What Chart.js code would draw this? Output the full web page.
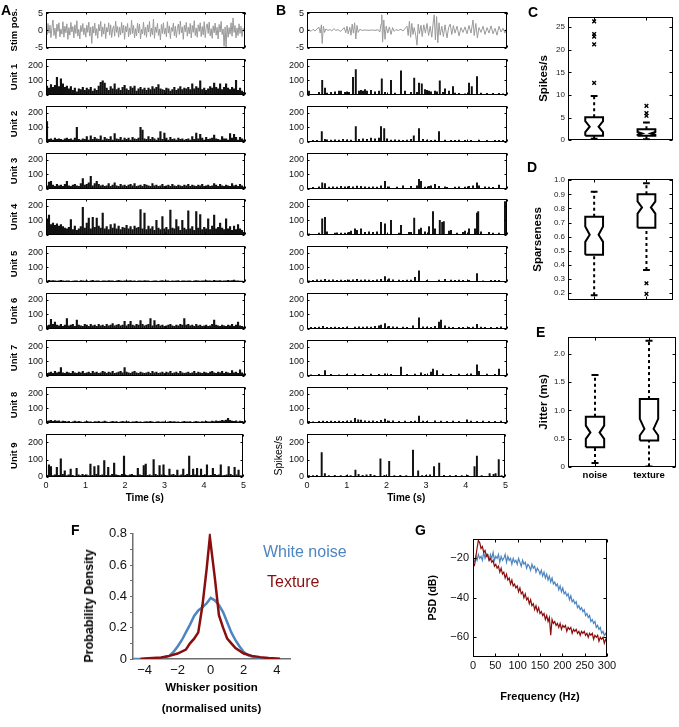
<!DOCTYPE html>
<html><head><meta charset="utf-8">
<script src="https://cdn.jsdelivr.net/npm/chart.js@4.4.1/dist/chart.umd.min.js"></script>
<style>
html,body{margin:0;padding:0;background:#fff;}
#fig{position:relative;width:679px;height:727px;overflow:hidden;font-family:"Liberation Sans",Arial,sans-serif;}
canvas{position:absolute;}
.let{position:absolute;font-weight:bold;font-size:14px;line-height:14px;color:#000;}
.leg{position:absolute;font-size:16px;line-height:16px;white-space:nowrap;}
.rot{position:absolute;white-space:nowrap;font-weight:bold;transform:translate(-50%,-50%) rotate(-90deg);}
</style></head><body><div id="fig"></div>
<script>
// ---------------- DATA ----------------
const timeTicks = [0, 1, 2, 3, 4, 5];
const stimTicks = [-5, 0, 5];
const rateTicks = [0, 100, 200];
const unitNames = ['Unit 1','Unit 2','Unit 3','Unit 4','Unit 5','Unit 6','Unit 7','Unit 8','Unit 9'];

// A: white-noise stimulus (sampled every 0.025 s)
const stimNoise = [
0.5,-1.2,2.0,-0.8,1.5,-2.1,0.9,3.0,-1.5,0.6,-2.4,1.8,-0.3,2.2,-1.9,0.4,-1.1,2.5,-2.0,1.2,
-0.7,1.9,-2.6,0.8,-1.4,2.3,-0.5,1.1,-2.2,1.6,-0.9,2.8,-1.7,0.3,-2.5,1.4,-0.4,2.0,-1.3,0.7,
-2.0,1.5,-0.6,2.4,-1.6,0.9,-3.8,1.2,-0.8,2.1,-1.5,0.5,-2.3,1.7,-0.2,2.6,-1.8,1.0,-1.1,1.9,
-2.4,0.8,-0.5,2.2,-1.4,1.6,-2.1,0.4,1.3,-1.7,2.7,-0.6,1.1,-2.0,0.9,-1.3,2.3,-0.8,1.5,-2.6,
1.2,-0.4,2.0,-1.9,0.7,-1.2,2.9,-0.9,1.4,-2.2,0.5,-1.6,2.1,-0.7,1.8,-2.5,0.3,-1.0,2.4,-1.4,
0.9,-2.0,1.6,-0.5,2.6,-1.8,0.6,-1.3,3.3,-2.3,1.0,-0.6,2.0,-1.5,0.4,-2.8,1.7,-0.9,2.2,-1.1,
0.6,-1.9,2.5,-0.8,1.3,-2.4,0.8,-0.3,2.1,-1.6,1.2,-2.1,0.5,1.8,-1.2,2.7,-0.7,1.0,-2.6,1.5,
-0.4,2.3,-1.7,0.9,-1.0,2.0,-2.2,1.4,-0.6,2.8,-1.5,0.7,-2.0,1.6,-0.3,2.2,-1.8,1.1,-1.3,2.5,
-2.1,0.8,1.9,-0.9,2.4,-1.6,0.5,-2.3,1.3,-0.7,2.1,-1.4,0.9,-2.5,1.7,-0.5,2.6,-1.2,0.4,-4.6,
1.0,-5.0,1.5,-2.0,0.8,-1.1,2.2,-1.7,3.6,-0.6,1.4,-2.2,0.7,-1.5,1.9,-0.9,1.2,-1.8,0.6,-0.4];

// B: texture stimulus [time (s), position]
const stimTexture = [
[0,0],[0.05,0.2],[0.1,-0.3],[0.15,0.3],[0.2,-0.2],[0.25,0.4],[0.3,0.9],[0.33,-0.8],[0.36,1.6],[0.38,-3.8],
[0.41,1.2],[0.44,-0.6],[0.47,0.4],[0.52,0],[0.58,0.2],[0.62,-0.2],[0.67,0.5],[0.72,0],[0.78,0.2],[0.83,-0.3],
[0.88,0.1],[0.93,0.8],[0.97,-0.7],[1.0,1.2],[1.03,-1.0],[1.07,0.9],[1.1,-1.4],[1.13,1.8],[1.16,-0.8],[1.19,2.2],
[1.22,-2.5],[1.25,1.4],[1.28,-0.6],[1.32,0.3],[1.37,0],[1.45,0.1],[1.55,0],[1.62,0.1],[1.7,0],[1.78,0.2],
[1.82,-0.5],[1.85,1.8],[1.87,4.5],[1.89,-3.4],[1.92,3.0],[1.95,-2.6],[1.98,1.2],[2.02,-0.8],[2.06,1.0],[2.1,-1.2],
[2.14,0.8],[2.18,-0.3],[2.22,0.2],[2.28,0],[2.35,0.3],[2.4,-0.2],[2.45,0.5],[2.5,1.2],[2.53,-1.5],[2.56,2.6],
[2.59,-2.0],[2.62,2.0],[2.65,-1.2],[2.68,0.8],[2.72,-1.6],[2.75,-4.3],[2.78,1.8],[2.81,-1.0],[2.85,1.5],[2.88,-1.8],
[2.92,1.6],[2.96,-0.8],[3.0,2.0],[3.04,-1.5],[3.08,1.2],[3.12,-2.0],[3.15,1.8],[3.18,4.5],[3.21,-2.8],[3.24,4.0],
[3.27,-3.6],[3.3,2.2],[3.33,-1.4],[3.37,1.2],[3.41,-1.8],[3.45,1.6],[3.5,-2.2],[3.54,0.8],[3.58,1.8],[3.62,-1.2],
[3.66,1.4],[3.7,-0.8],[3.75,1.2],[3.8,-1.6],[3.85,0.8],[3.9,-0.6],[3.95,1.0],[4.0,-1.0],[4.05,1.4],[4.1,-0.8],
[4.15,3.0],[4.18,-1.5],[4.22,2.0],[4.26,-2.2],[4.3,0.8],[4.35,-0.6],[4.4,1.2],[4.45,-1.2],[4.5,0.8],[4.55,-0.8],
[4.6,1.3],[4.65,-1.0],[4.7,0.6],[4.75,-1.4],[4.8,1.2],[4.85,-0.5],[4.9,0.6],[4.95,-0.8],[4.98,0.3]];

// A: firing rates (spikes/s) in 50 ms bins, white-noise stimulus
const noiseUnit1 = [60,45,70,50,65,120,55,110,75,50, 60,40,55,30,45,20,40,35,50,30, 45,35,50,25,40,30,60,85,95,80, 45,30,55,40,75,35,45,30,50,65,
 40,30,55,45,60,25,40,50,35,45, 30,45,35,55,40,50,70,40,35,30, 45,40,25,35,50,30,40,55,35,45, 40,50,35,75,40,55,45,95,35,45,
 30,40,55,45,80,50,40,75,35,50, 75,45,35,50,40,100,30,45,25,15];
const noiseUnit2 = [140,15,20,10,25,15,20,15,10,20, 25,15,20,10,25,100,15,10,20,15, 35,10,40,15,30,20,15,40,10,30, 20,15,35,10,55,20,15,30,10,25,
 15,25,10,30,20,15,25,100,80,20, 15,35,15,30,20,10,25,70,15,60, 25,10,30,15,20,10,25,15,20,10, 15,20,10,35,15,60,20,50,25,10,
 30,15,20,25,45,20,15,10,35,20, 20,10,55,25,50,30,10,30,20,10];
const noiseUnit3 = [20,45,50,25,15,30,20,25,15,30, 50,20,15,25,30,20,15,35,70,25, 30,40,85,20,35,50,30,20,25,15, 20,35,15,25,40,20,15,30,20,25,
 15,25,30,20,35,15,20,25,15,30, 25,20,15,35,20,25,15,20,30,15, 20,25,15,30,20,15,25,20,15,25, 20,30,15,25,20,15,25,20,30,15,
 20,25,15,20,35,25,15,30,20,15, 25,20,15,35,20,25,15,30,20,10];
const noiseUnit4 = [110,135,70,80,65,75,60,70,55,45, 40,50,105,35,60,30,40,55,190,45, 80,115,40,120,50,115,60,45,150,40, 55,35,70,45,75,40,60,35,50,45,
 65,40,55,35,60,45,50,175,40,150, 35,60,40,55,30,100,45,35,125,40, 50,35,170,45,40,105,55,30,100,45, 35,165,40,55,30,160,45,140,35,50,
 40,110,35,60,135,40,50,80,45,35, 110,40,55,30,60,35,70,40,30,15];
const noiseUnit5 = [5,8,6,7,5,4,6,8,5,3, 6,5,0,4,6,5,0,7,5,4, 6,0,5,8,4,6,5,0,6,5, 4,7,5,6,0,5,8,6,4,5, 6,5,7,4,6,0,5,6,4,7,
 5,6,0,4,5,6,0,5,7,4, 6,5,0,6,4,5,7,0,5,6, 4,6,5,0,6,7,5,4,6,5, 7,5,6,4,8,6,5,7,4,5, 6,8,5,7,10,6,5,4,3,2];
const noiseUnit6 = [20,25,65,30,45,25,20,30,15,25, 70,20,25,30,15,60,25,20,15,30, 25,15,30,20,25,15,30,20,25,15, 30,20,25,35,20,25,30,20,25,50,
 20,30,50,25,20,30,25,55,30,20, 25,30,70,20,55,25,30,20,25,15, 20,25,30,20,15,25,20,30,25,70, 25,30,20,25,15,30,20,25,15,20,
 25,15,20,30,60,25,20,15,25,20, 15,25,20,30,15,25,45,20,15,10];
const noiseUnit7 = [15,20,25,15,30,20,25,55,20,15, 25,20,15,30,20,15,25,20,30,15, 20,25,15,30,20,25,15,20,30,25, 15,25,20,30,15,20,25,30,20,55,
 25,20,15,25,30,20,15,25,20,15, 20,25,15,30,20,25,15,20,25,15, 25,20,30,15,20,25,15,30,20,15, 20,25,15,20,30,15,25,20,15,25,
 20,15,25,30,20,15,25,20,30,15, 25,20,15,35,20,25,15,40,20,10];
const noiseUnit8 = [10,12,15,8,14,10,12,6,10,8, 5,8,0,6,10,5,8,6,0,5, 8,6,5,0,7,5,8,4,6,10, 5,0,6,8,5,7,0,5,8,6, 5,7,0,6,5,8,4,6,0,5,
 7,5,8,6,0,5,7,4,6,5, 0,6,8,5,7,4,6,0,5,8, 6,5,7,0,6,8,5,4,7,6, 8,5,6,10,7,12,8,10,15,12, 18,30,15,10,8,12,6,10,8,5];
const noiseUnit9 = [10,70,60,8,12,55,10,105,15,35, 8,12,45,10,5,50,12,8,15,10, 12,8,75,10,60,15,65,10,12,95, 10,55,8,15,80,12,10,8,15,120,
 10,8,12,15,10,8,50,12,10,65, 75,10,12,8,100,15,10,65,12,70, 10,8,45,12,15,10,40,8,12,45, 10,15,120,10,45,12,50,8,45,10,
 12,70,8,10,50,15,10,12,70,8, 10,12,60,15,10,55,12,40,8,5];

// B: firing rates (spikes/s) [time (s), rate], texture stimulus
const texUnit1 = [[0.05,25],[0.3,15],[0.38,100],[0.45,45],[0.5,10],[0.6,15],[0.7,20],[0.8,25],[0.85,25],[0.95,15],[1.0,20],[1.05,15],[1.15,120],[1.22,175],[1.3,25],[1.35,30],[1.4,25],[1.45,35],[1.5,25],[1.6,30],[1.7,20],[1.8,25],[1.87,110],[1.95,15],[2.1,100],[2.2,10],[2.35,165],[2.45,25],[2.6,15],[2.68,115],[2.75,15],[2.8,80],[2.87,75],[2.95,35],[3.0,30],[3.05,25],[3.1,20],[3.2,25],[3.25,20],[3.32,95],[3.4,15],[3.45,40],[3.55,25],[3.65,55],[3.7,10],[3.8,8],[3.95,5],[4.05,80],[4.12,55],[4.25,125],[4.35,10],[4.5,8],[4.65,8],[4.8,8],[4.9,6]];
const texUnit2 = [[0.15,8],[0.25,8],[0.37,70],[0.45,15],[0.5,12],[0.6,10],[0.7,12],[0.8,10],[0.9,15],[1.0,12],[1.1,10],[1.22,105],[1.3,15],[1.4,20],[1.5,15],[1.6,25],[1.7,20],[1.8,25],[1.85,105],[1.93,90],[2.0,20],[2.1,10],[2.2,12],[2.3,10],[2.4,8],[2.5,10],[2.6,15],[2.67,40],[2.8,90],[2.9,15],[3.0,10],[3.1,8],[3.2,10],[3.3,70],[3.45,10],[3.6,8],[3.7,8],[3.8,10],[3.95,8],[4.1,8],[4.3,10],[4.5,8],[4.7,8],[4.8,8],[4.9,8]];
const texUnit3 = [[0.15,8],[0.3,12],[0.38,40],[0.45,35],[0.55,10],[0.65,12],[0.75,10],[0.85,15],[0.95,12],[1.05,15],[1.15,12],[1.25,18],[1.35,15],[1.45,12],[1.55,10],[1.65,12],[1.75,10],[1.85,20],[1.95,50],[2.05,12],[2.25,10],[2.4,20],[2.6,15],[2.75,20],[2.8,65],[2.85,50],[2.95,10],[3.05,15],[3.1,20],[3.2,30],[3.3,15],[3.45,12],[3.5,8],[3.7,10],[3.8,12],[3.95,10],[4.05,15],[4.15,20],[4.25,40],[4.3,20],[4.45,12],[4.55,10],[4.65,8],[4.8,25]];
const texUnit4 = [[0.05,5],[0.3,10],[0.38,110],[0.45,120],[0.5,20],[0.7,10],[0.75,12],[0.85,10],[0.95,10],[1.05,15],[1.1,25],[1.2,40],[1.25,30],[1.35,40],[1.45,15],[1.55,20],[1.65,15],[1.75,20],[1.85,85],[1.95,75],[2.1,100],[2.3,10],[2.35,65],[2.55,15],[2.6,15],[2.68,115],[2.8,35],[2.85,45],[2.95,20],[3.05,55],[3.15,160],[3.2,40],[3.32,100],[3.38,85],[3.42,90],[3.55,25],[3.6,30],[3.75,10],[3.9,15],[3.95,25],[4.05,40],[4.2,40],[4.25,150],[4.28,160],[4.35,20],[4.55,15],[4.65,10],[4.8,10],[4.95,230]];
const texUnit5 = [[0.0,8],[0.05,5],[0.15,8],[0.25,12],[0.35,10],[0.45,15],[0.55,10],[0.65,12],[0.75,8],[0.85,10],[0.95,8],[1.05,10],[1.15,12],[1.25,15],[1.35,10],[1.45,12],[1.55,10],[1.65,8],[1.75,12],[1.85,15],[1.95,35],[2.05,20],[2.15,12],[2.3,10],[2.4,8],[2.5,10],[2.6,10],[2.7,30],[2.8,75],[3.0,8],[3.3,10],[3.45,15],[3.6,10],[3.7,8],[3.8,10],[3.9,8],[4.05,8],[4.25,55],[4.4,5],[4.6,8],[4.7,8],[4.8,8]];
const texUnit6 = [[0.1,8],[0.2,8],[0.3,10],[0.4,15],[0.5,8],[0.6,8],[0.7,10],[0.8,8],[0.9,8],[1.0,10],[1.2,10],[1.3,12],[1.4,10],[1.5,12],[1.6,10],[1.7,15],[1.8,20],[1.85,25],[1.95,35],[2.05,15],[2.15,12],[2.25,10],[2.4,10],[2.5,8],[2.65,20],[2.8,75],[2.9,12],[3.0,10],[3.1,8],[3.2,15],[3.3,45],[3.35,60],[3.45,20],[3.55,10],[3.65,8],[3.8,8],[3.9,8],[4.05,8],[4.15,10],[4.25,30],[4.35,10],[4.45,8],[4.6,8],[4.75,8],[4.85,12]];
const texUnit7 = [[0.1,5],[0.3,8],[0.45,35],[0.6,8],[0.8,5],[1.0,8],[1.2,10],[1.4,8],[1.6,10],[1.8,8],[1.95,12],[2.1,8],[2.35,60],[2.5,8],[2.7,10],[2.85,20],[2.95,8],[3.1,25],[3.15,45],[3.25,35],[3.4,10],[3.6,8],[3.8,10],[4.0,8],[4.1,12],[4.25,75],[4.3,30],[4.5,10],[4.7,8],[4.8,45]];
const texUnit8 = [[0.05,8],[0.15,5],[0.3,8],[0.4,10],[0.5,8],[0.6,10],[0.7,8],[0.8,10],[0.9,8],[1.0,10],[1.1,12],[1.2,30],[1.28,20],[1.35,18],[1.45,12],[1.55,10],[1.65,12],[1.75,8],[1.85,15],[1.95,25],[2.05,10],[2.15,12],[2.3,8],[2.45,10],[2.6,8],[2.7,10],[2.8,45],[2.9,10],[3.0,8],[3.2,12],[3.35,10],[3.5,8],[3.65,10],[3.8,8],[4.0,20],[4.1,10],[4.25,8],[4.4,10],[4.55,8],[4.7,8],[4.85,10]];
const texUnit9 = [[0.05,8],[0.15,8],[0.25,10],[0.37,140],[0.45,20],[0.55,8],[0.7,10],[0.85,8],[1.0,10],[1.1,8],[1.22,40],[1.3,15],[1.4,10],[1.5,12],[1.6,15],[1.7,10],[1.85,105],[1.95,10],[2.07,90],[2.2,8],[2.35,10],[2.5,8],[2.67,155],[2.8,35],[2.9,8],[3.0,10],[3.1,12],[3.2,60],[3.33,80],[3.45,10],[3.6,8],[3.75,10],[3.9,8],[4.05,10],[4.22,60],[4.28,120],[4.4,8],[4.6,20],[4.7,15],[4.75,20],[4.83,100],[4.9,8]];

// C-E: box statistics [lower whisker, Q1, notch low, median, notch high, Q3, upper whisker]
const boxCats = ['noise', 'texture'];
const rateNoise = [0.3, 1.0, 1.8, 3.0, 4.2, 5.05, 9.8];
const rateTexture = [0.2, 1.0, 1.2, 1.5, 1.8, 2.4, 3.9];
const rateOutNoise = [26.3, 23.5, 22.9, 21.2, 12.7];
const rateOutTexture = [7.6, 6.0, 5.4];
const rateTicks2 = [0, 5, 10, 15, 20, 25];
const sparseNoise = [0.185, 0.472, 0.563, 0.614, 0.672, 0.741, 0.918];
const sparseTexture = [0.364, 0.663, 0.763, 0.807, 0.85, 0.90, 0.978];
const sparseOutTexture = [0.27, 0.195];
const sparseTicks = [0.2, 0.3, 0.4, 0.5, 0.6, 0.7, 0.8, 0.9, 1];
const jitterNoise = [0.07, 0.351, 0.497, 0.608, 0.73, 0.889, 1.626];
const jitterTexture = [0.01, 0.468, 0.556, 0.672, 0.85, 1.2, 2.23];
const jitterTicks = [0, 0.5, 1, 1.5, 2];

// F: whisker position probability density
const pdfWhiteX = [-4.7,-4.5,-4,-3.5,-3,-2.5,-2.25,-2,-1.75,-1.5,-1.25,-1,-0.75,-0.5,-0.25,0,0.25,0.5,0.75,1,1.25,1.5,1.75,2,2.25,2.5,3,3.5];
const pdfWhiteY = [0,0,0,0.002,0.006,0.02,0.045,0.08,0.12,0.17,0.22,0.275,0.31,0.33,0.355,0.39,0.375,0.345,0.3,0.235,0.17,0.12,0.08,0.045,0.025,0.015,0.006,0.002];
const pdfTexX = [-4.25,-4,-3.5,-3,-2.5,-2,-1.5,-1.25,-1,-0.75,-0.5,-0.25,-0.05,0.25,0.5,0.75,1,1.25,1.5,2,2.5,3,3.5,4,4.2];
const pdfTexY = [0,0.003,0.006,0.01,0.02,0.035,0.06,0.1,0.13,0.17,0.34,0.57,0.78,0.52,0.28,0.2,0.13,0.1,0.07,0.035,0.02,0.012,0.006,0.003,0.002];
const pdfXTicks = [-4, -2, 0, 2, 4];

// G: power spectral density (dB), 3 Hz steps from 3 to 300 Hz
const psdWhite = [-22,-19,-21,-18,-20,-19,-21,-17,-20,-18, -19,-21,-18,-20,-17,-21,-19,-20,-18,-22,
 -19,-21,-20,-18,-22,-19,-21,-20,-23,-20, -22,-21,-23,-20,-22,-24,-21,-23,-22,-25, -23,-24,-26,-23,-25,-24,-27,-25,-26,-28,
 -26,-29,-27,-30,-28,-31,-29,-32,-30,-33, -32,-34,-33,-36,-34,-37,-35,-38,-37,-39, -38,-41,-39,-42,-41,-43,-42,-45,-44,-46,
 -45,-47,-46,-49,-48,-50,-49,-52,-51,-53, -52,-55,-54,-56,-55,-58,-57,-59,-58,-60];
const psdTexture = [-24,-20,-15,-11,-12,-15,-14,-17,-16,-19, -18,-21,-20,-22,-21,-24,-23,-25,-24,-27,
 -25,-28,-27,-30,-28,-31,-30,-33,-31,-34, -33,-35,-34,-37,-35,-38,-37,-40,-38,-41, -40,-43,-41,-44,-43,-46,-44,-47,-45,-48,
 -47,-49,-48,-51,-49,-52,-50,-59,-51,-53, -52,-54,-53,-55,-53,-56,-54,-55,-54,-57, -55,-56,-55,-58,-56,-57,-56,-58,-57,-59,
 -57,-58,-57,-59,-58,-60,-58,-59,-58,-61, -59,-60,-59,-62,-60,-61,-60,-63,-61,-62];
const psdXTicks = [0, 50, 100, 150, 200, 250, 300];
const psdYTicks = [-60, -40, -20];

// ---------------- RENDERING ----------------
const FONT = '"Liberation Sans", Arial, sans-serif';
Chart.defaults.font.family = FONT;
Chart.defaults.color = '#111';
Chart.defaults.animation = false;

const framePlugin = {
  id: 'frame',
  afterDatasetsDraw(chart, args, o) {
    if (!o || !o.on) return;
    const {ctx, chartArea: a, scales} = chart;
    const L = o.tick || 3;
    ctx.save();
    ctx.strokeStyle = o.color || '#000';
    ctx.lineWidth = 1;
    ctx.beginPath();
    const l = Math.round(a.left) + 0.5, r = Math.round(a.right) - 0.5;
    const t = Math.round(a.top) + 0.5, b = Math.round(a.bottom) - 0.5;
    (scales.x.ticks || []).forEach(tk => {
      const p = Math.round(scales.x.getPixelForValue(tk.value)) + 0.5;
      ctx.moveTo(p, b); ctx.lineTo(p, b - L);
      ctx.moveTo(p, t); ctx.lineTo(p, t + L);
    });
    (scales.y.ticks || []).forEach(tk => {
      const p = Math.round(scales.y.getPixelForValue(tk.value)) + 0.5;
      ctx.moveTo(l, p); ctx.lineTo(l + L, p);
      ctx.moveTo(r, p); ctx.lineTo(r - L, p);
    });
    ctx.stroke();
    ctx.strokeRect(l, t, r - l, b - t);
    ctx.restore();
  }
};
Chart.register(framePlugin);

const fig = document.getElementById('fig');
function mk(left, top, w, h) {
  const c = document.createElement('canvas');
  c.width = w; c.height = h;
  c.style.left = left + 'px'; c.style.top = top + 'px';
  c.style.width = w + 'px'; c.style.height = h + 'px';
  fig.appendChild(c);
  return c;
}
function fixTicks(vals) { return s => { s.ticks = vals.map(v => ({value: v})); }; }
const minus = v => String(v).replace('-', '\u2212');

// one row of panel A / B
function rowChart(o) {
  const padT = 7, padR = 4, plotH = 44;
  const xH = o.showX ? 27 : 0;
  const W = o.axisW + (o.plotR - o.plotL) + padR;
  const H = padT + plotH + xH + 1;
  const cv = mk(o.plotL - o.axisW, o.top - padT, W, H);
  const ds = o.kind === 'bar'
    ? {data: o.points, backgroundColor: '#111', borderWidth: 0, barThickness: o.bw}
    : {data: o.points, showLine: true, borderColor: '#9a9a9a', borderWidth: 1, pointRadius: 0, tension: 0};
  new Chart(cv, {
    type: o.kind === 'bar' ? 'bar' : 'scatter',
    data: {datasets: [ds]},
    options: {
      responsive: false, animation: false, events: [],
      layout: {padding: {top: padT, right: padR, bottom: 1, left: 0}},
      plugins: {legend: {display: false}, tooltip: {enabled: false}, frame: {on: true, tick: 2}},
      scales: {
        x: {type: 'linear', min: 0, max: 5, offset: false,
            grid: {display: false, drawTicks: false, offset: false}, border: {display: false},
            afterBuildTicks: fixTicks(timeTicks), afterFit: s => { s.height = xH; },
            ticks: {display: !!o.showX, font: {size: 9}, padding: 3, maxRotation: 0, autoSkip: false, color: '#111'},
            title: {display: !!o.showX, text: 'Time (s)', font: {size: 10, weight: 'bold'}, padding: {top: 0, bottom: 0}, color: '#000'}},
        y: {type: 'linear', min: o.yMin, max: o.yMax,
            grid: {display: false, drawTicks: false}, border: {display: false},
            afterBuildTicks: fixTicks(o.yTicks), afterFit: s => { s.width = o.axisW; },
            ticks: {font: {size: 9}, padding: 3, autoSkip: false, color: '#111'},
            title: {display: !!o.yTitle, text: o.yTitle, font: {size: o.titleSize || 9.5, weight: o.titleWeight || 'bold'},
                    padding: {top: o.titlePad, bottom: 0}, color: '#000'}}
      }
    }
  });
}

const rowTops = [11, 58, 105, 152, 198, 245, 292, 339, 386, 433];
const noiseUnits = [noiseUnit1, noiseUnit2, noiseUnit3, noiseUnit4, noiseUnit5, noiseUnit6, noiseUnit7, noiseUnit8, noiseUnit9];
const texUnits = [texUnit1, texUnit2, texUnit3, texUnit4, texUnit5, texUnit6, texUnit7, texUnit8, texUnit9];

// Panel A
rowChart({kind: 'line', plotL: 46, plotR: 245, top: rowTops[0], axisW: 46,
  points: stimNoise.map((v, i) => ({x: i * 0.025, y: v})),
  yMin: -5, yMax: 5.2, yTicks: stimTicks, yTitle: 'Stim pos.', titlePad: 9});
noiseUnits.forEach((u, k) => {
  rowChart({kind: 'bar', plotL: 46, plotR: 245, top: rowTops[k + 1], axisW: 46, bw: 1.5,
    points: u.map((v, i) => ({x: 0.025 + i * 0.05, y: v})),
    yMin: 0, yMax: 245, yTicks: rateTicks, yTitle: unitNames[k], titlePad: 9, showX: k === 8});
});
// Panel B
rowChart({kind: 'line', plotL: 307, plotR: 507, top: rowTops[0], axisW: 36,
  points: stimTexture.map(p => ({x: p[0], y: p[1]})),
  yMin: -5, yMax: 5.2, yTicks: stimTicks});
texUnits.forEach((u, k) => {
  rowChart({kind: 'bar', plotL: 307, plotR: 507, top: rowTops[k + 1], axisW: 36, bw: 1.3,
    points: u.map(p => ({x: p[0], y: p[1]})),
    yMin: 0, yMax: 245, yTicks: rateTicks, showX: k === 8,
    yTitle: k === 8 ? 'Spikes/s' : null, titleWeight: 'normal', titleSize: 10.5, titlePad: 2});
});

// Panels C-E: notched box plots
const BOXW = 0.17, NOTCHW = 0.085, CAPW = 0.065;
function boxParts(s, pos) {
  const [lo, q1, nLo, med, nHi, q3, hi] = s;
  const line = (pts, dash) => ({data: pts.map(p => ({x: p[0], y: p[1]})), showLine: true, borderColor: '#000',
    borderWidth: 2, borderDash: dash || [], pointRadius: 0, tension: 0});
  return [
    line([[pos-BOXW,q1],[pos+BOXW,q1],[pos+BOXW,nLo],[pos+NOTCHW,med],[pos+BOXW,nHi],[pos+BOXW,q3],
          [pos-BOXW,q3],[pos-BOXW,nHi],[pos-NOTCHW,med],[pos-BOXW,nLo],[pos-BOXW,q1]]),
    line([[pos,q3],[pos,hi]], [3,3]),
    line([[pos,lo],[pos,q1]], [3,3]),
    line([[pos-CAPW,hi],[pos+CAPW,hi]]),
    line([[pos-CAPW,lo],[pos+CAPW,lo]])
  ];
}
function outliers(vals, pos) {
  return {data: vals.map(v => ({x: pos, y: v})), showLine: false, pointStyle: 'crossRot', pointRadius: 2.6,
    borderColor: '#000', borderWidth: 1.4, backgroundColor: '#000'};
}
function boxChart(o) {
  const plotL = 568, plotR = 676, axisW = 37, padT = 7, padR = 2;
  const xH = o.showCats ? 18 : 0;
  const cv = mk(plotL - axisW, o.plotT - padT, axisW + plotR - plotL + padR, padT + (o.plotB - o.plotT) + xH + 1);
  const ds = [...boxParts(o.n, 1), ...boxParts(o.t, 2)];
  if (o.outN) ds.push(outliers(o.outN, 1));
  if (o.outT) ds.push(outliers(o.outT, 2));
  new Chart(cv, {
    type: 'scatter',
    data: {datasets: ds},
    options: {
      responsive: false, animation: false, events: [],
      layout: {padding: {top: padT, right: padR, bottom: 1, left: 0}},
      plugins: {legend: {display: false}, tooltip: {enabled: false}, frame: {on: true, tick: 3}},
      scales: {
        x: {type: 'linear', min: 0.5, max: 2.5, grid: {display: false, drawTicks: false}, border: {display: false},
            afterBuildTicks: fixTicks([1, 2]), afterFit: s => { s.height = xH; },
            ticks: {display: !!o.showCats, callback: v => boxCats[v - 1], font: {size: 9.5, weight: 'bold'}, padding: 3, autoSkip: false, maxRotation: 0, color: '#000'}},
        y: {type: 'linear', min: o.yMin, max: o.yMax, grid: {display: false, drawTicks: false}, border: {display: false},
            afterBuildTicks: fixTicks(o.yTicks), afterFit: s => { s.width = axisW; },
            ticks: {font: {size: 8}, padding: 3, autoSkip: false, color: '#222'},
            title: {display: true, text: o.title, font: {size: 11.5, weight: 'bold'}, padding: {top: o.titlePad, bottom: 0}, color: '#000'}}
      }
    }
  });
}
boxChart({plotT: 16, plotB: 147, yMin: 0, yMax: 27.3, yTicks: rateTicks2, title: 'Spikes/s', titlePad: 6,
  n: rateNoise, t: rateTexture, outN: rateOutNoise, outT: rateOutTexture});
boxChart({plotT: 178, plotB: 307, yMin: 0.15, yMax: 1.01, yTicks: sparseTicks, title: 'Sparseness', titlePad: 0,
  n: sparseNoise, t: sparseTexture, outT: sparseOutTexture});
boxChart({plotT: 336, plotB: 467, yMin: 0, yMax: 2.3, yTicks: jitterTicks, title: 'Jitter (ms)', titlePad: 6,
  n: jitterNoise, t: jitterTexture, showCats: true});

// Panel F
(function () {
  const plotL = 133, plotR = 290, plotT = 531, plotB = 659, axisW = 38, padT = 8, padR = 6, xH = 60;
  const cv = mk(plotL - axisW, plotT - padT, axisW + plotR - plotL + padR, padT + plotB - plotT + xH + 1);
  new Chart(cv, {
    type: 'scatter',
    data: {datasets: [
      {data: pdfTexX.map((x, i) => ({x, y: pdfTexY[i]})), showLine: true, borderColor: '#8b0e0e', borderWidth: 2.5, pointRadius: 0, tension: 0},
      {data: pdfWhiteX.map((x, i) => ({x, y: pdfWhiteY[i]})), showLine: true, borderColor: '#4d85c1', borderWidth: 2.5, pointRadius: 0, tension: 0}
    ]},
    options: {
      responsive: false, animation: false, events: [],
      layout: {padding: {top: padT, right: padR, bottom: 1, left: 0}},
      plugins: {legend: {display: false}, tooltip: {enabled: false}},
      scales: {
        x: {type: 'linear', min: -4.7, max: 4.8, grid: {display: false, drawTicks: false}, border: {display: true, color: '#6e6e6e', width: 1.5},
            afterBuildTicks: fixTicks(pdfXTicks), afterFit: s => { s.height = xH; },
            ticks: {font: {size: 13}, padding: 4, autoSkip: false, maxRotation: 0, color: '#111', callback: v => minus(v)},
            title: {display: true, text: ['Whisker position', '(normalised units)'], font: {size: 11.5, weight: 'bold', lineHeight: 1.8}, padding: {top: 0, bottom: 0}, color: '#000'}},
        y: {type: 'linear', min: 0, max: 0.8, grid: {display: true, drawOnChartArea: false, drawTicks: true, tickLength: 3, color: '#6e6e6e'},
            border: {display: true, color: '#6e6e6e', width: 1.5},
            afterBuildTicks: fixTicks([0, 0.1, 0.2, 0.3, 0.4, 0.5, 0.6, 0.7, 0.8]), afterFit: s => { s.width = axisW; },
            ticks: {font: {size: 13}, padding: 3, autoSkip: false, color: '#111',
                    callback: v => (Math.round(v * 10) % 2 === 0 ? (v === 0 ? '0' : v.toFixed(1)) : '')}}
      }
    }
  });
})();

// Panel G
(function () {
  const plotL = 473, plotR = 607, plotT = 535, plotB = 657, axisW = 48, padT = 7, padR = 12, xH = 47;
  const cv = mk(plotL - axisW, plotT - padT, axisW + plotR - plotL + padR, padT + plotB - plotT + xH + 1);
  new Chart(cv, {
    type: 'scatter',
    data: {datasets: [
      {data: psdTexture.map((v, i) => ({x: 3 * (i + 1), y: v})), showLine: true, borderColor: '#8b0e0e', borderWidth: 1.2, pointRadius: 0, tension: 0},
      {data: psdWhite.map((v, i) => ({x: 3 * (i + 1), y: v})), showLine: true, borderColor: '#4d85c1', borderWidth: 1.2, pointRadius: 0, tension: 0}
    ]},
    options: {
      responsive: false, animation: false, events: [],
      layout: {padding: {top: padT, right: padR, bottom: 1, left: 0}},
      plugins: {legend: {display: false}, tooltip: {enabled: false}, frame: {on: true, tick: 3}},
      scales: {
        x: {type: 'linear', min: 0, max: 300, grid: {display: false, drawTicks: false}, border: {display: false},
            afterBuildTicks: fixTicks(psdXTicks), afterFit: s => { s.height = xH; },
            ticks: {font: {size: 11}, padding: 2, autoSkip: false, maxRotation: 0, color: '#111'},
            title: {display: true, text: 'Frequency (Hz)', font: {size: 11, weight: 'bold'}, padding: {top: 0, bottom: 0}, color: '#000'}},
        y: {type: 'linear', min: -70, max: -10, grid: {display: false, drawTicks: false}, border: {display: false},
            afterBuildTicks: fixTicks(psdYTicks), afterFit: s => { s.width = axisW; },
            ticks: {font: {size: 11}, padding: 4, autoSkip: false, color: '#111', callback: v => minus(v)},
            title: {display: true, text: 'PSD (dB)', font: {size: 10.5, weight: 'bold'}, padding: {top: 2, bottom: 0}, color: '#000'}}
      }
    }
  });
})();

// Panel letters, F legend and F y-title (HTML text)
[['A', 1, 3], ['B', 276, 3], ['C', 528, 5], ['D', 527, 160], ['E', 536, 325], ['F', 71, 523], ['G', 415, 523]].forEach(([t, x, y]) => {
  const d = document.createElement('div'); d.className = 'let'; d.textContent = t;
  d.style.left = x + 'px'; d.style.top = y + 'px'; fig.appendChild(d);
});
[['White noise', '#4d85c1', 263, 544], ['Texture', '#8b0e0e', 267, 574]].forEach(([t, c, x, y]) => {
  const d = document.createElement('div'); d.className = 'leg'; d.textContent = t; d.style.color = c;
  d.style.left = x + 'px'; d.style.top = y + 'px'; fig.appendChild(d);
});
(function () {
  const d = document.createElement('div'); d.className = 'rot'; d.textContent = 'Probability Density';
  d.style.fontSize = '12.5px'; d.style.left = '89px'; d.style.top = '606px'; fig.appendChild(d);
})();
</script></body></html>
